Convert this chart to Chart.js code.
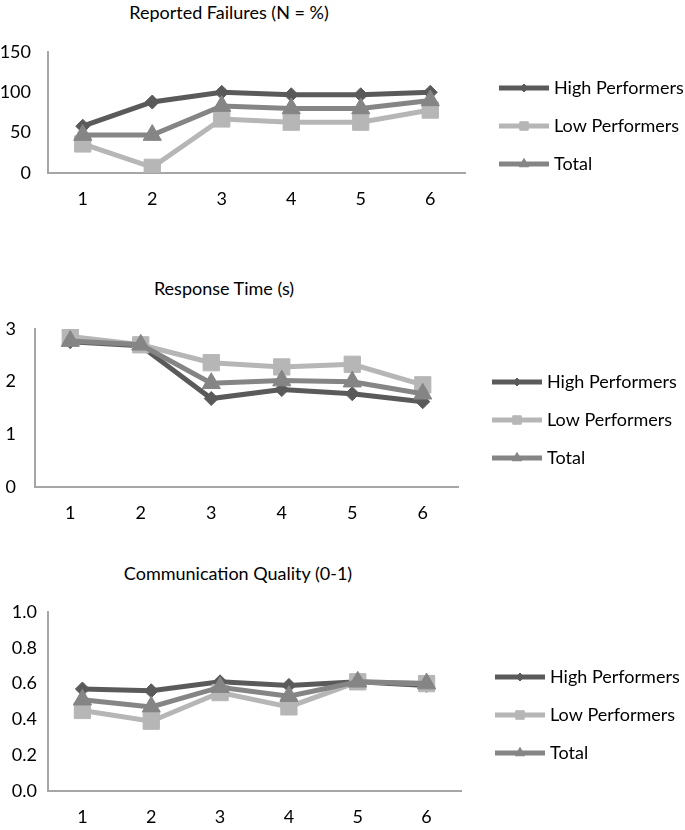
<!DOCTYPE html>
<html>
<head>
<meta charset="utf-8">
<script src="https://cdn.jsdelivr.net/npm/chart.js@4"></script>
<style>
  html, body { margin: 0; padding: 0; background: #fff; overflow: hidden; }
  body { width: 685px; height: 830px; position: relative; font-family: Lato, "Open Sans", sans-serif; }
  canvas { position: absolute; left: 0; }
  .title { position: absolute; transform: translateX(-50%); white-space: nowrap;
           font-size: 18px; line-height: 22px; color: #000; }
</style>
</head>
<body>
<div class="title" id="t0"></div>
<div class="title" id="t1"></div>
<div class="title" id="t2"></div>
<canvas id="c0"></canvas>
<canvas id="c1"></canvas>
<canvas id="c2"></canvas>
<script>
// data
const categories = ["1", "2", "3", "4", "5", "6"];
const seriesNames = ["High Performers", "Low Performers", "Total"];
const chartTitles = ["Reported Failures (N = %)", "Response Time (s)", "Communication Quality (0-1)"];

const failuresHigh = [58, 88, 100, 97, 97, 100];
const failuresLow = [36, 7, 67, 63, 63, 78];
const failuresTotal = [47, 47, 83, 80, 80, 90];

const responseHigh = [2.76, 2.68, 1.68, 1.85, 1.77, 1.62];
const responseLow = [2.86, 2.70, 2.36, 2.28, 2.33, 1.94];
const responseTotal = [2.77, 2.70, 1.97, 2.02, 2.00, 1.77];

const commHigh = [0.57, 0.56, 0.61, 0.59, 0.61, 0.59];
const commLow = [0.45, 0.39, 0.55, 0.47, 0.61, 0.60];
const commTotal = [0.51, 0.47, 0.58, 0.53, 0.61, 0.60];

// y axis ranges: [min, max, step, decimals]
const yRanges = [[0, 150, 50, 0], [0, 3, 1, 0], [0, 1, 0.2, 1]];

// styling
const colors = ["#5a5a5a", "#b6b6b6", "#858585"];
const pointStyles = ["rectRot", "rect", "triangle"];
const pointSizes = [7, 11.5, 10.5];
const legendSizes = [4, 6, 5.5];
const FONT = "Lato, 'Open Sans', sans-serif";
const FONT_SIZE = 18;

// layout of each panel (page pixels)
const panels = [
  { plotTop: 52, plotBottom: 173, plotLeft: 48, plotRight: 465, legendFirst: 88, yPad: 17, titleX: 229, titleY: 12 },
  { plotTop: 329, plotBottom: 487, plotLeft: 35, plotRight: 458, legendFirst: 382, yPad: 19, titleX: 224, titleY: 288 },
  { plotTop: 612, plotBottom: 791, plotLeft: 48, plotRight: 461, legendFirst: 677, yPad: 11, titleX: 238, titleY: 573 },
];

const allSeries = [
  [failuresHigh, failuresLow, failuresTotal],
  [responseHigh, responseLow, responseTotal],
  [commHigh, commLow, commTotal],
];

// small line+marker sample for the legend
function legendIcon(i) {
  const c = document.createElement("canvas");
  c.width = 68;
  c.height = 14;
  const ctx = c.getContext("2d");
  ctx.strokeStyle = colors[i];
  ctx.lineWidth = 5;
  ctx.beginPath();
  ctx.moveTo(18, 7);
  ctx.lineTo(68, 7);
  ctx.stroke();
  ctx.fillStyle = colors[i];
  ctx.lineWidth = 1;
  Chart.helpers.drawPoint(ctx, { pointStyle: pointStyles[i], radius: legendSizes[i], rotation: 0, borderWidth: 1 }, 43, 7);
  return c;
}
const icons = [0, 1, 2].map(legendIcon);

const W = 685;
const PAD_TOP = 32; // must exceed half a tick label + the y tick padding
const PAD_BOTTOM = 4;
const X_HEIGHT = 40;
const LEGEND_PAD = 20;

panels.forEach((p, k) => {
  const t = document.getElementById("t" + k);
  t.textContent = chartTitles[k];
  t.style.left = p.titleX + "px";
  t.style.top = (p.titleY - 11) + "px";

  const canvasTop = p.plotTop - PAD_TOP;
  const canvas = document.getElementById("c" + k);
  canvas.width = W;
  canvas.height = p.plotBottom + X_HEIGHT + PAD_BOTTOM - canvasTop;
  canvas.style.top = canvasTop + "px";

  // spacer above the legend items so the first one sits where the original has it
  const legendGap = p.legendFirst - p.plotTop - LEGEND_PAD - FONT_SIZE / 2;

  const [yMin, yMax, yStep, yDec] = yRanges[k];

  const chart = new Chart(canvas.getContext("2d"), {
    type: "line",
    data: {
      labels: categories,
      datasets: allSeries[k].map((values, i) => ({
        label: seriesNames[i],
        data: values,
        borderColor: colors[i],
        backgroundColor: colors[i],
        borderWidth: 5,
        pointStyle: pointStyles[i],
        pointRadius: pointSizes[i],
        pointBackgroundColor: colors[i],
        pointBorderColor: colors[i],
        pointBorderWidth: 1,
        tension: 0,
        order: 3 - i, // Total drawn on top, like the original
      })),
    },
    options: {
      responsive: false,
      animation: false,
      devicePixelRatio: 1,
      layout: {
        padding: { top: PAD_TOP, bottom: PAD_BOTTOM, left: 0, right: 0 },
      },
      plugins: {
        tooltip: { enabled: false },
        legend: {
          position: "right",
          align: "start",
          maxWidth: W - p.plotRight,
          title: {
            display: true,
            text: "",
            font: { size: 1, lineHeight: 1 },
            padding: { top: legendGap - 1, bottom: 0 },
          },
          labels: {
            usePointStyle: true,
            pointStyleWidth: 60,
            padding: LEGEND_PAD,
            color: "#000",
            font: { family: FONT, size: FONT_SIZE },
            sort: (a, b) => a.datasetIndex - b.datasetIndex,
            generateLabels: (chart) =>
              Chart.defaults.plugins.legend.labels.generateLabels(chart).map((item) => {
                item.pointStyle = icons[item.datasetIndex];
                return item;
              }),
          },
        },
      },
      scales: {
        x: {
          offset: true,
          grid: { display: false, drawTicks: false },
          border: { display: true, color: "#a6a6a6", width: 2 },
          ticks: { color: "#000", padding: 15, font: { family: FONT, size: FONT_SIZE } },
          afterFit: (s) => { s.height = X_HEIGHT; },
        },
        y: {
          min: yMin,
          max: yMax,
          grid: { display: false, drawTicks: false },
          border: { display: true, color: "#a6a6a6", width: 2 },
          ticks: {
            stepSize: yStep,
            color: "#000",
            padding: p.yPad,
            font: { family: FONT, size: FONT_SIZE },
            callback: (v) => Number(v).toFixed(yDec),
          },
          afterFit: (s) => { s.width = p.plotLeft; },
        },
      },
    },
  });

  // legend width is known now: pad the right so the plot ends where the original does
  chart.options.layout.padding.right = Math.max(0, W - p.plotRight - chart.legend.width);
  chart.update();
});
</script>
</body>
</html>
